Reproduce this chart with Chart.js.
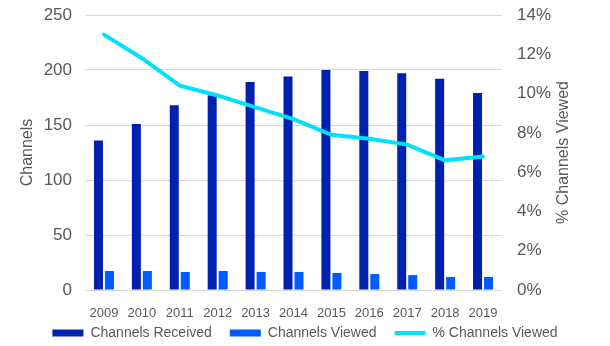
<!DOCTYPE html>
<html>
<head>
<meta charset="utf-8">
<script src="https://cdn.jsdelivr.net/npm/chart.js@4"></script>
<style>
  html, body { margin: 0; padding: 0; background: #fff; }
  #wrap { width: 610px; height: 346px; }
</style>
</head>
<body>
<div id="wrap"><canvas id="chart"></canvas></div>
<script>
const years = ['2009', '2010', '2011', '2012', '2013', '2014', '2015', '2016', '2017', '2018', '2019'];
const channelsReceived = [136, 151, 168, 177, 189, 194, 200, 199, 197, 192, 179];
const channelsViewed = [17.3, 17.3, 16.4, 17.3, 16.4, 16.4, 15.5, 14.5, 13.6, 11.8, 11.8];
const pctViewed = [13.0, 11.8, 10.4, 9.9, 9.3, 8.7, 7.9, 7.7, 7.4, 6.6, 6.8];
const leftTicks = [0, 50, 100, 150, 200, 250];
const rightTicks = [0, 2, 4, 6, 8, 10, 12, 14];

const grey = '#595959';
const font = 'Liberation Sans, Arial, sans-serif';

// right axis title reads bottom-to-top like the left one
const rightTitle = {
    id: 'rightTitle',
    afterDraw(chart) {
        const ctx = chart.ctx;
        const a = chart.chartArea;
        ctx.save();
        ctx.translate(564, (a.top + a.bottom) / 2);
        ctx.rotate(-Math.PI / 2);
        ctx.fillStyle = grey;
        ctx.font = '16px ' + font;
        ctx.textAlign = 'center';
        ctx.textBaseline = 'middle';
        ctx.fillText('% Channels Viewed', 0, 0);
        ctx.restore();
    }
};

// wide item spacing needs a big legend padding, pull the legend back up afterwards
const legendNudge = {
    id: 'legendNudge',
    afterLayout(chart) {
        chart.legend.top -= 13;
        chart.legend.bottom -= 13;
    }
};

function fitY(w) {
    return s => {
        s.width = w;
        s.paddingTop = 0;
        s.paddingBottom = 0;
    };
}

new Chart(document.getElementById('chart'), {
    data: {
        labels: years,
        datasets: [{
            type: 'bar',
            label: 'Channels Received',
            data: channelsReceived,
            backgroundColor: '#0020B0',
            yAxisID: 'y',
            order: 1,
            categoryPercentage: 0.58,
            barPercentage: 0.82
        }, {
            type: 'bar',
            label: 'Channels Viewed',
            data: channelsViewed,
            backgroundColor: '#005CFF',
            yAxisID: 'y',
            order: 1,
            categoryPercentage: 0.58,
            barPercentage: 0.82
        }, {
            type: 'line',
            label: '% Channels Viewed',
            data: pctViewed,
            borderColor: '#00E0FF',
            backgroundColor: '#00E0FF',
            borderWidth: 4,
            borderCapStyle: 'round',
            pointRadius: 0,
            tension: 0,
            yAxisID: 'y1',
            order: 0
        }]
    },
    options: {
        responsive: true,
        maintainAspectRatio: false,
        animation: false,
        layout: { padding: { top: 15, left: 0, right: 0, bottom: -4 } },
        plugins: {
            tooltip: { enabled: false },
            legend: {
                position: 'bottom',
                maxHeight: 29,
                labels: {
                    color: grey,
                    font: { family: font, size: 14 },
                    usePointStyle: true,
                    pointStyleWidth: 31,
                    boxHeight: 7,
                    padding: 18,
                    generateLabels(chart) {
                        const items = Chart.defaults.plugins.legend.labels.generateLabels(chart);
                        items.sort((p, q) => p.datasetIndex - q.datasetIndex);
                        items.forEach(it => {
                            it.pointStyle = it.datasetIndex < 2 ? 'rect' : 'line';
                        });
                        return items;
                    }
                }
            }
        },
        scales: {
            x: {
                grid: { display: false, drawTicks: false },
                border: { display: false },
                ticks: { color: grey, font: { family: font, size: 13 }, padding: 16, maxRotation: 0 },
                afterFit(s) { s.height = 31; }
            },
            y: {
                position: 'left',
                min: 0,
                max: 250,
                afterBuildTicks(s) { s.ticks = leftTicks.map(v => ({ value: v })); },
                grid: { color: '#D9D9D9', drawTicks: false },
                border: { display: false },
                ticks: { color: grey, font: { family: font, size: 17 }, padding: 13 },
                title: {
                    display: true,
                    text: 'Channels',
                    color: grey,
                    font: { family: font, size: 16 },
                    padding: { top: 18, bottom: 0 }
                },
                afterFit: fitY(85)
            },
            y1: {
                position: 'right',
                min: 0,
                max: 14,
                afterBuildTicks(s) { s.ticks = rightTicks.map(v => ({ value: v })); },
                grid: { display: false, drawTicks: false },
                border: { display: false },
                ticks: {
                    color: grey,
                    font: { family: font, size: 17 },
                    padding: 15,
                    callback: v => v + '%'
                },
                afterFit: fitY(108)
            }
        }
    },
    plugins: [rightTitle, legendNudge]
});
</script>
</body>
</html>
